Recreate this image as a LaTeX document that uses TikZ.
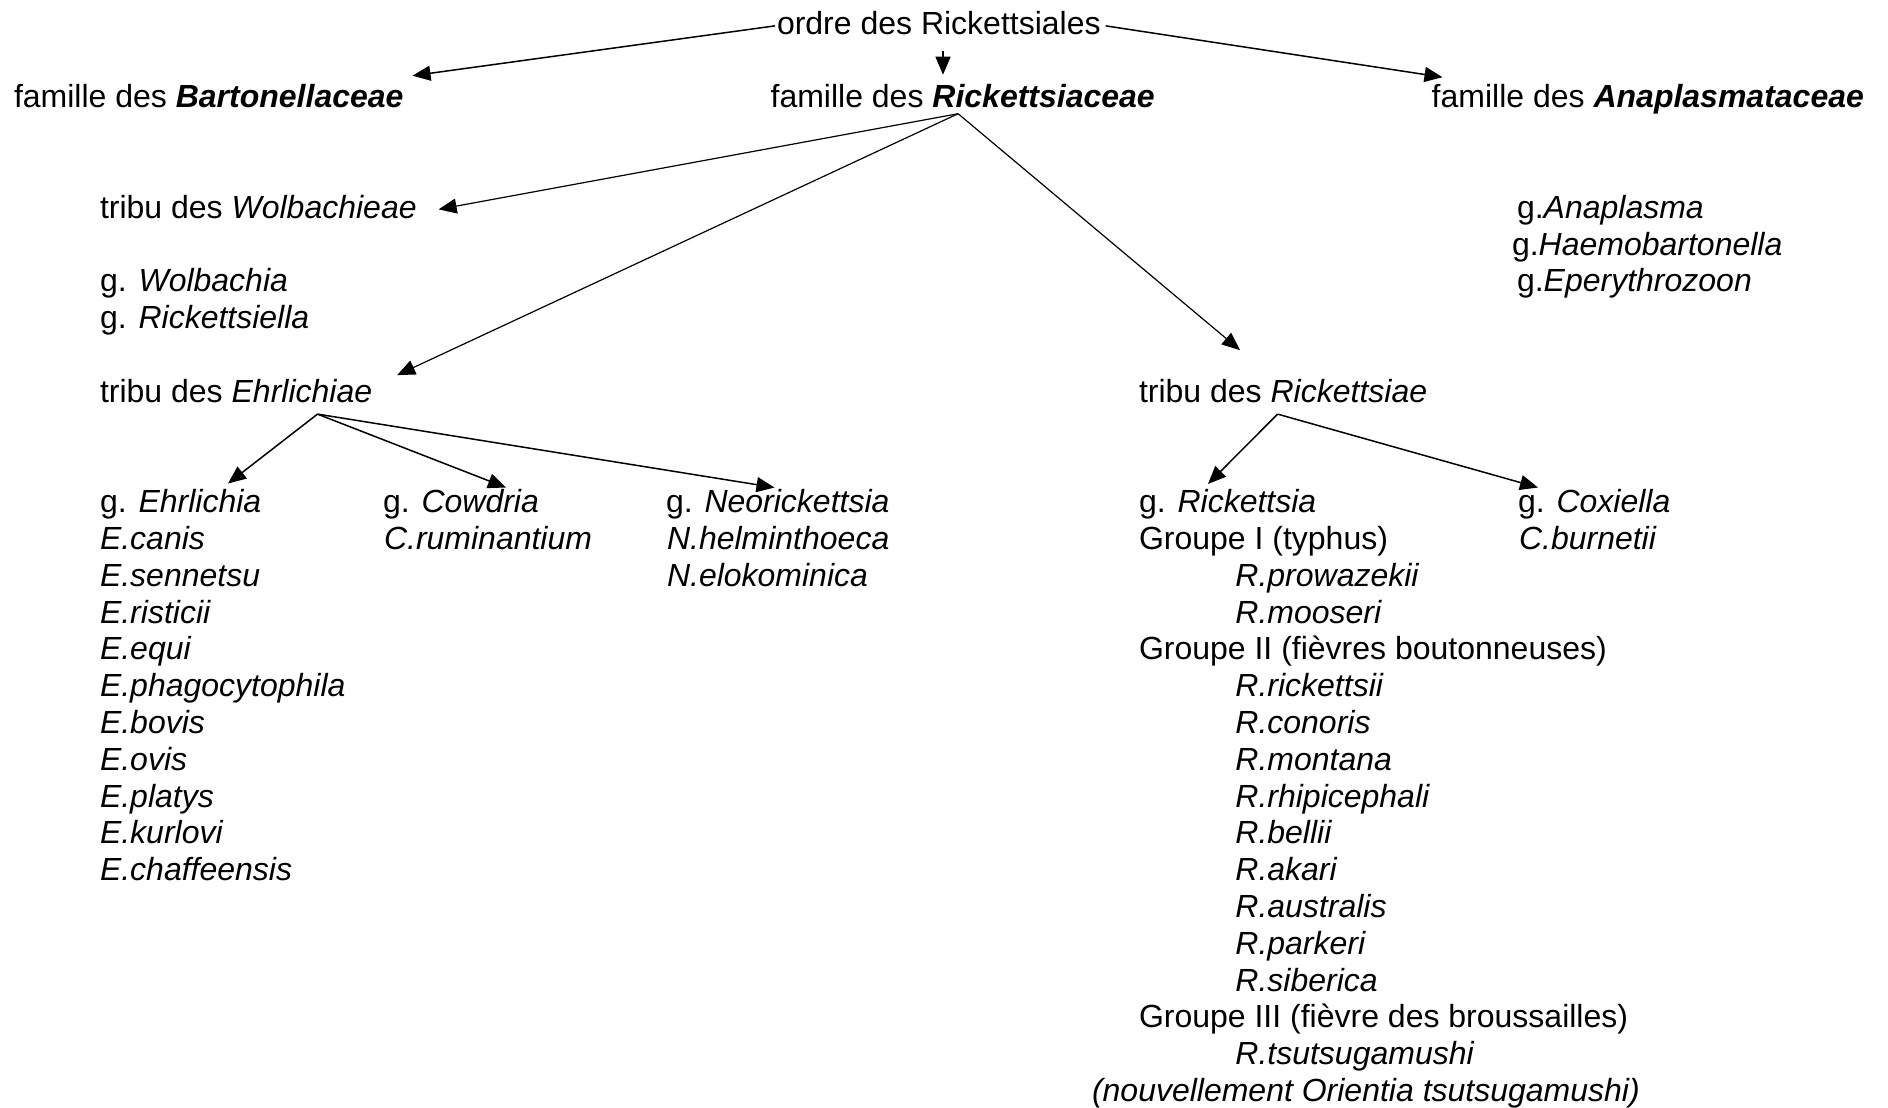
\documentclass[tikz,border=0pt]{standalone}
\usepackage{fontspec}
\setmainfont{Liberation Sans}
\usetikzlibrary{arrows.meta,calc}
\begin{document}
\begin{tikzpicture}[x=1pt,y=-1pt,
  txt/.style={inner sep=0pt,outer sep=0pt,anchor=base west,font=\fontsize{32}{36.8}\selectfont},
  arr/.style={-{Triangle[length=18pt,width=15pt]},line width=1.5pt},
  arrthin/.style={-{Triangle[length=18pt,width=15pt]},line width=1.2pt}]
\def\B{512.7}
\useasboundingbox (0,0) rectangle (1888,1108);
% top levels
\node[txt] (ordre) at (777,{\B-36.8*13}) {ordre des Rickettsiales};
\node[txt] (bart) at (14,{\B-36.8*11}) {famille des \textbf{\textit{Bartonellaceae}}};
\node[txt] (rick) at (770.6,{\B-36.8*11}) {famille des \textbf{\textit{Rickettsiaceae}}};
\node[txt] (anap) at (1431.7,{\B-36.8*11}) {famille des \textbf{\textit{Anaplasmataceae}}};
% tribes
\node[txt] (wolb) at (100,{\B-36.8*8}) {tribu des \textit{Wolbachieae}};
\node[txt] (gWol) at (100,{\B-36.8*6}) {g. \textit{Wolbachia}};
\node[txt] (gRla) at (100,{\B-36.8*5}) {g. \textit{Rickettsiella}};
\node[txt] (ehrl) at (100,{\B-36.8*3}) {tribu des \textit{Ehrlichiae}};
\node[txt] (rickt) at (1139,{\B-36.8*3}) {tribu des \textit{Rickettsiae}};
% Anaplasmataceae genera
\node[txt] (gAna) at (1517,{\B-36.8*8}) {g.\textit{Anaplasma}};
\node[txt] (gHae) at (1512,{\B-36.8*7}) {g.\textit{Haemobartonella}};
\node[txt] (gEpe) at (1517,{\B-36.8*6}) {g.\textit{Eperythrozoon}};
% Ehrlichia
\node[txt] (gEhr) at (100,\B) {g. \textit{Ehrlichia}};
\node[txt] (e1) at (100,{\B+36.8*1}) {\textit{E.canis}};
\node[txt] (e2) at (100,{\B+36.8*2}) {\textit{E.sennetsu}};
\node[txt] (e3) at (100,{\B+36.8*3}) {\textit{E.risticii}};
\node[txt] (e4) at (100,{\B+36.8*4}) {\textit{E.equi}};
\node[txt] (e5) at (100,{\B+36.8*5}) {\textit{E.phagocytophila}};
\node[txt] (e6) at (100,{\B+36.8*6}) {\textit{E.bovis}};
\node[txt] (e7) at (100,{\B+36.8*7}) {\textit{E.ovis}};
\node[txt] (e8) at (100,{\B+36.8*8}) {\textit{E.platys}};
\node[txt] (e9) at (100,{\B+36.8*9}) {\textit{E.kurlovi}};
\node[txt] (e10) at (100,{\B+36.8*10}) {\textit{E.chaffeensis}};
% Cowdria
\node[txt] (gCow) at (383,\B) {g. \textit{Cowdria}};
\node[txt] (c1) at (384,{\B+36.8*1}) {\textit{C.ruminantium}};
% Neorickettsia
\node[txt] (gNeo) at (666,\B) {g. \textit{Neorickettsia}};
\node[txt] (n1) at (667,{\B+36.8*1}) {\textit{N.helminthoeca}};
\node[txt] (n2) at (667,{\B+36.8*2}) {\textit{N.elokominica}};
% Rickettsia
\node[txt] (gRick) at (1139,\B) {g. \textit{Rickettsia}};
\node[txt] (g1) at (1139,{\B+36.8*1}) {Groupe I (typhus)};
\node[txt] (r1) at (1235.4,{\B+36.8*2}) {\textit{R.prowazekii}};
\node[txt] (r2) at (1235.4,{\B+36.8*3}) {\textit{R.mooseri}};
\node[txt] (g2) at (1139,{\B+36.8*4}) {Groupe II (fièvres boutonneuses)};
\node[txt] (r3) at (1235.4,{\B+36.8*5}) {\textit{R.rickettsii}};
\node[txt] (r4) at (1235.4,{\B+36.8*6}) {\textit{R.conoris}};
\node[txt] (r5) at (1235.4,{\B+36.8*7}) {\textit{R.montana}};
\node[txt] (r6) at (1235.4,{\B+36.8*8}) {\textit{R.rhipicephali}};
\node[txt] (r7) at (1235.4,{\B+36.8*9}) {\textit{R.bellii}};
\node[txt] (r8) at (1235.4,{\B+36.8*10}) {\textit{R.akari}};
\node[txt] (r9) at (1235.4,{\B+36.8*11}) {\textit{R.australis}};
\node[txt] (r10) at (1235.4,{\B+36.8*12}) {\textit{R.parkeri}};
\node[txt] (r11) at (1235.4,{\B+36.8*13}) {\textit{R.siberica}};
\node[txt] (g3) at (1139,{\B+36.8*14}) {Groupe III (fièvre des broussailles)};
\node[txt] (r12) at (1235.4,{\B+36.8*15}) {\textit{R.tsutsugamushi}};
\node[txt] (r13) at (1092,{\B+36.8*16}) {\textit{(nouvellement Orientia tsutsugamushi)}};
% Coxiella
\node[txt] (gCox) at (1518,\B) {g. \textit{Coxiella}};
\node[txt] (x1) at (1519,{\B+36.8*1}) {\textit{C.burnetii}};
% junction points
\coordinate (ra) at ([shift={(187.5,5.5)}]rick.south west);
\coordinate (ea) at ([shift={(217.5,11.5)}]ehrl.south west);
\coordinate (rta) at ([shift={(138.6,11.5)}]rickt.south west);
% connectors
\draw[arr] ([shift={(-2,3)}]ordre.west) -- ([shift={(9,-9)}]bart.north east);
\draw[arr] ([shift={(166,16)}]ordre.south west) -- ([shift={(172.4,-10)}]rick.north west);
\draw[arr] ([shift={(5,3)}]ordre.east) -- ([shift={(10.8,-7.5)}]anap.north west);
\draw[arrthin] (ra) -- ([shift={(22,2.5)}]wolb.east);
\draw[arrthin] (ra) -- ([shift={(25,-4)}]ehrl.north east);
\draw[arrthin] (ra) -- ([shift={(101,-29)}]rickt.north west);
\draw[arr] (ea) -- ([shift={(128,-6)}]gEhr.north west);
\draw[arr] (ea) -- ([shift={(123,-2)}]gCow.north west);
\draw[arr] (ea) -- ([shift={(108.5,-2)}]gNeo.north west);
\draw[arr] (rta) -- ([shift={(69,-5.5)}]gRick.north west);
\draw[arr] (rta) -- ([shift={(20,-2)}]gCox.north west);
\end{tikzpicture}
\end{document}
